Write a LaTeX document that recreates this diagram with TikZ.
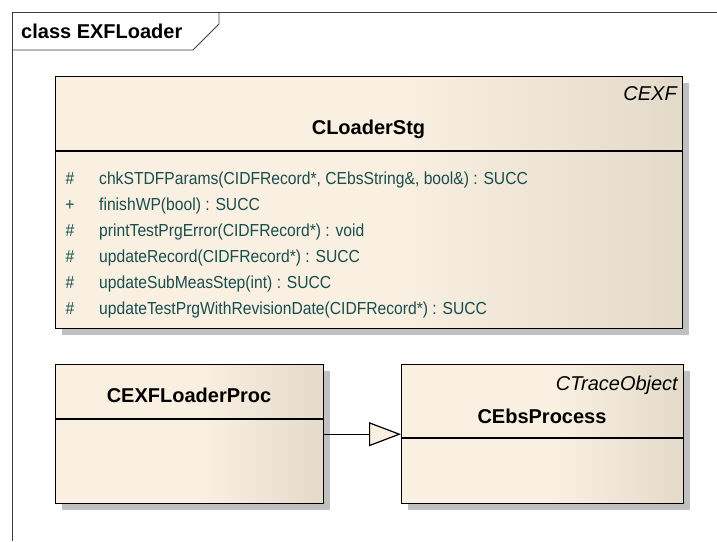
\documentclass[tikz,border=0pt]{standalone}
\usepackage{fontspec}
\setmainfont{Liberation Sans}
\newfontfamily\attrfont[FakeStretch=0.9]{Liberation Sans}
\usetikzlibrary{shadows,arrows.meta}
\definecolor{umlA}{RGB}{250,240,226}
\definecolor{umlB}{RGB}{227,218,202}
\definecolor{attrcol}{RGB}{25,78,78}
\definecolor{shadowgray}{RGB}{192,192,192}
\definecolor{framecol}{RGB}{60,60,60}
\pgfdeclarehorizontalshading{umlfill}{100bp}{color(0bp)=(umlA); color(25bp)=(umlA); color(52bp)=(umlA); color(75bp)=(umlB); color(100bp)=(umlB)}
\begin{document}
\begin{tikzpicture}[x=1pt,y=-1pt,
  classbox/.style={draw=black, line width=1.4pt, shading=umlfill,
    drop shadow={shadow xshift=6pt, shadow yshift=-6pt, fill=shadowgray, opacity=1},
    inner sep=0pt, anchor=north west},
  titletext/.style={font=\fontsize{20}{22}\selectfont\bfseries, inner sep=0pt, anchor=base},
  nsptext/.style={font=\fontsize{20}{22}\selectfont\itshape, inner sep=0pt, anchor=base east},
  attrtext/.style={font=\attrfont\fontsize{17.4}{20}\selectfont, text=attrcol, inner sep=0pt, anchor=base west},
  vistext/.style={font=\attrfont\fontsize{17.4}{20}\selectfont, text=attrcol, inner sep=0pt, anchor=base},
  divider/.style={line width=1.4pt},
  gen/.style={line width=1.2pt, -{Triangle[open, length=32pt, width=24pt, fill=umlA]}}
]
\useasboundingbox (0,0) rectangle (717,541);
% frame
\draw[line width=0.9pt, framecol] (12,541) -- (12,12) -- (717,12);
\draw[line width=0.9pt, framecol] (12,50) -- (193,50) -- (219,24) -- (219,12);
\node[font=\fontsize{20}{22}\selectfont\bfseries, inner sep=0pt, anchor=base west] (frmlabel) at (21,38) {class EXFLoader};

% CLoaderStg
\node[classbox, minimum width=627pt, minimum height=252pt] (stg) at (55,76) {};
\draw[divider] (stg.west |- 0,151) -- (stg.east |- 0,151);
\node[nsptext] (stgns) at (677,100) {CEXF};
\node[titletext] (stgtitle) at (368.5,134) {CLoaderStg};
\foreach \i/\v/\t in {1/\#/{chkSTDFParams(CIDFRecord*, CEbsString\&, bool\&) : SUCC},
                      2/+/{finishWP(bool) : SUCC},
                      3/\#/{printTestPrgError(CIDFRecord*) : void},
                      4/\#/{updateRecord(CIDFRecord*) : SUCC},
                      5/\#/{updateSubMeasStep(int) : SUCC},
                      6/\#/{updateTestPrgWithRevisionDate(CIDFRecord*) : SUCC}} {
  \node[vistext] (vis\i) at (70,{178+26*(\i-1)+6}) {\v};
  \node[attrtext] (op\i) at (99,{178+26*(\i-1)+6}) {\t};
}

% CEXFLoaderProc
\node[classbox, minimum width=268pt, minimum height=139pt] (proc) at (55,364) {};
\draw[divider] (proc.west |- 0,419) -- (proc.east |- 0,419);
\node[titletext] (proctitle) at (189,402) {CEXFLoaderProc};

% CEbsProcess
\node[classbox, minimum width=282pt, minimum height=139pt] (ebs) at (401,364) {};
\draw[divider] (ebs.west |- 0,438) -- (ebs.east |- 0,438);
\node[nsptext] (ebsns) at (678,390) {CTraceObject};
\node[titletext] (ebstitle) at (542,423) {CEbsProcess};

% generalization
\draw[gen] (proc.east) -- (proc.east -| ebs.west);
\end{tikzpicture}
\end{document}
